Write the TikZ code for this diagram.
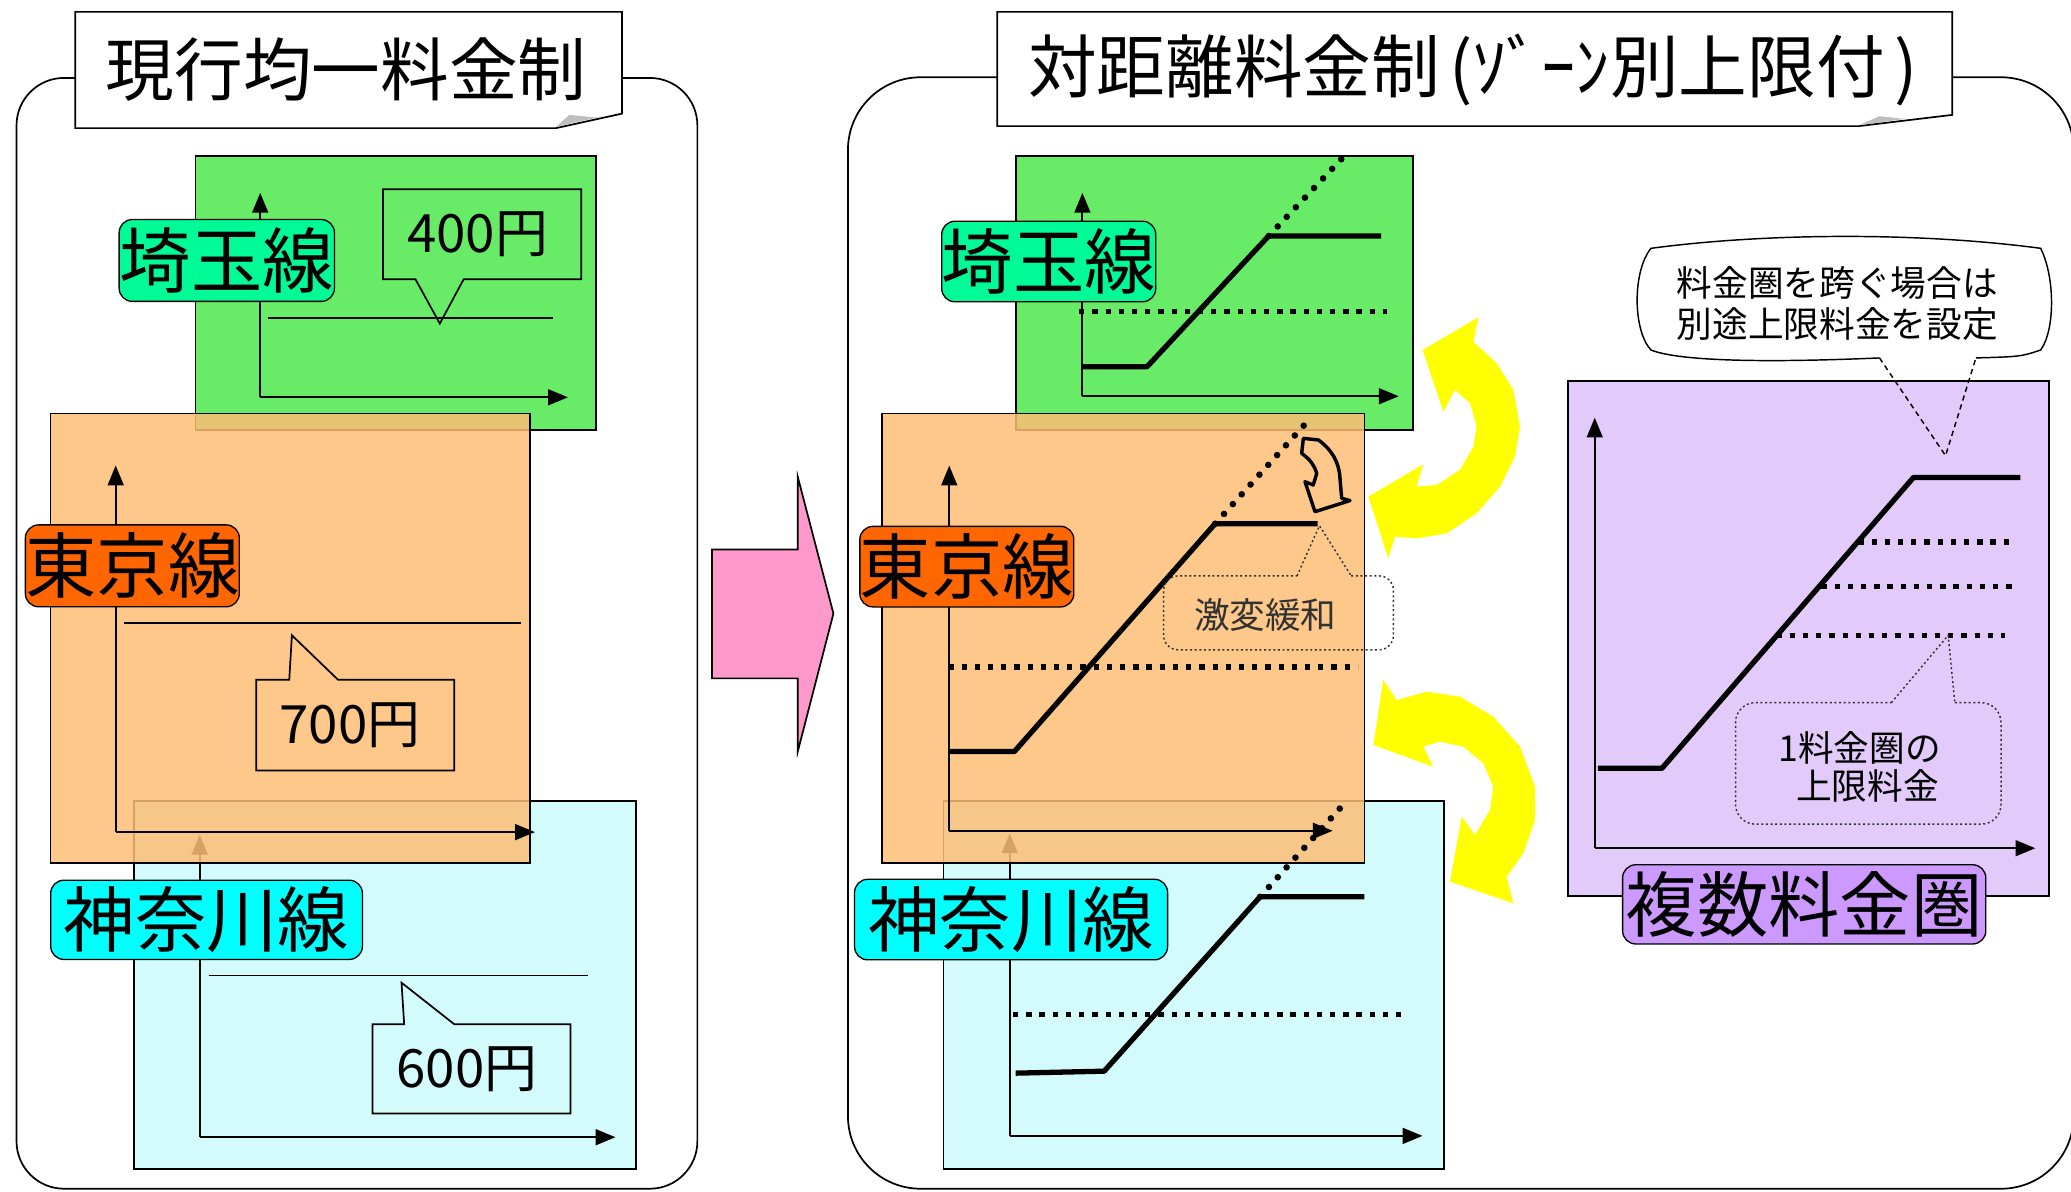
\documentclass[tikz,border=0pt]{standalone}
\usepackage{fontspec}
\setmainfont{Noto Sans CJK JP}
\usetikzlibrary{arrows.meta}
\definecolor{grnbox}{RGB}{104,236,104}
\definecolor{orgbox}{RGB}{253,190,118}
\definecolor{cynbox}{RGB}{212,251,252}
\definecolor{purbox}{RGB}{226,202,250}
\definecolor{grnlab}{RGB}{0,250,150}
\definecolor{orglab}{RGB}{255,102,0}
\definecolor{cynlab}{RGB}{0,255,255}
\definecolor{purlab}{RGB}{204,153,255}
\definecolor{pinkarr}{RGB}{255,153,204}
\definecolor{yelarr}{RGB}{255,255,0}
\definecolor{foldgray}{RGB}{190,190,190}
\definecolor{txtgray}{RGB}{50,50,50}
\newcommand{\myfs}[1]{\fontsize{#1}{#1}\selectfont}
\tikzset{
  frame/.style={draw=black, line width=1.3pt},
  boxline/.style={draw=black, line width=1.3pt},
  axis/.style={line width=1.5pt, -{Triangle[length=15pt,width=12pt]}},
  price/.style={line width=4pt, line join=round},
  thinline/.style={line width=1.3pt},
  dotflat/.style={line width=4pt, dash pattern=on 4pt off 6pt},
  dotdiag/.style={line width=5pt, line cap=round, dash pattern=on 0pt off 10pt},
  labelbox/.style={draw=black, line width=1pt, rounded corners=10pt, inner sep=0pt, font=\myfs{54}},
  titletext/.style={inner sep=0pt, font=\myfs{52}},
  amount/.style={inner sep=0pt, font=\myfs{40}},
  smalltext/.style={inner sep=0pt, font=\myfs{27}, align=center},
  callout/.style={draw=txtgray, line width=1.1pt, dash pattern=on 1.5pt off 2pt},
}
\begin{document}
\begin{tikzpicture}[x=1pt,y=-1pt]
\useasboundingbox (0,0) rectangle (1568,902);
\clip (0,0) rectangle (1568,902);

% ---------- outer frames ----------
\draw[frame, rounded corners=36pt] (12.5,59) rectangle (528,900);
\draw[frame, rounded corners=55pt] (642,58.5) rectangle (1570,900);

% ---------- titles ----------
\draw[boxline, fill=white] (57,9) -- (471,9) -- (471,86) -- (421,97) -- (57,97) -- cycle;
\fill[foldgray] (421,96) -- (431,87) -- (452,89) -- cycle;
\node[titletext] (t1) at (262,53) {現行均一料金制};

\draw[boxline, fill=white] (755,9) -- (1478,9) -- (1478,87) -- (1407,95.5) -- (755,95.5) -- cycle;
\fill[foldgray] (1407,95) -- (1423,88) -- (1442,90) -- cycle;
\node[titletext] (t2) at (1115,53) {対距離料金制\hspace{7pt}(ｿﾞｰﾝ別上限付\hspace{7pt})};

% ---------- pink arrow ----------
\draw[line width=1.3pt, fill=pinkarr] (539,416) -- (604,416) -- (604,361) -- (631,464.5) -- (604,569) -- (604,513.6) -- (539,513.6) -- cycle;

% =========== LEFT PANEL ===========
% green (Saitama)
\draw[boxline, fill=grnbox] (148,118) rectangle (451,325.6);
\draw[axis] (197,300.8) -- (197,146);
\draw[axis] (197,300.8) -- (430,300.8);
\draw[thinline] (203,240.5) -- (419,240.5);
\draw[thinline] (290,143.3) -- (440,143.3) -- (440,211.5) -- (351,211.5) -- (333,245) -- (314.6,211.5) -- (290,211.5) -- cycle;
\node[amount] (a400) at (361.5,177) {400円};

% cyan (Kanagawa)
\draw[boxline, fill=cynbox] (101.5,606.3) rectangle (481.4,885);
\draw[axis] (151.2,861) -- (151.2,632);
\draw[axis] (151.2,861) -- (466,861);
\draw[thinline] (158,738.5) -- (445,738.5);
\draw[thinline] (282,775.5) -- (306,775.5) -- (304,744) -- (344,775.5) -- (432,775.5) -- (432,843) -- (282,843) -- cycle;
\node[amount] (a600) at (353.5,809.5) {600円};

% orange (Tokyo)
\draw[boxline, fill=orgbox, fill opacity=0.85] (38.2,313) rectangle (401.5,653.3);
\draw[axis] (87.6,630) -- (87.6,352.4);
\draw[axis] (87.6,630) -- (405,630);
\draw[thinline] (93.8,471.6) -- (394.5,471.6);
\draw[thinline] (194,514.7) -- (219,514.7) -- (221,481) -- (256,514.7) -- (344,514.7) -- (344,583.4) -- (194,583.4) -- cycle;
\node[amount] (a700) at (265,549) {700円};

% labels
\node[labelbox, fill=grnlab, minimum width=163pt, minimum height=62pt] (sL) at (171.7,197.2) {埼玉線};
\node[labelbox, fill=orglab, minimum width=161pt, minimum height=62pt] (tL) at (100.2,428.4) {東京線};
\node[labelbox, fill=cynlab, minimum width=236pt, minimum height=60pt] (kL) at (156.4,696.4) {神奈川線};

% =========== RIGHT PANEL ===========
% green (Saitama)
\draw[boxline, fill=grnbox] (769,118) rectangle (1070,325.6);
\draw[axis] (819.5,300) -- (819.5,146);
\draw[axis] (819.5,300) -- (1059,300);
\draw[dotflat] (817,236) -- (1050,236);
\draw[price] (819.5,277.6) -- (868.5,277.6) -- (960.5,178.7) -- (1045.6,178.7);
\draw[dotdiag] (960.5,178.7) -- (1016,120);

% cyan (Kanagawa)
\draw[boxline, fill=cynbox] (714.4,606.4) rectangle (1093,885);
\draw[axis] (764.5,860) -- (764.5,631);
\draw[axis] (764.5,860) -- (1077,860);
\draw[dotflat] (767,768) -- (1063,768);
\draw[price] (769,812.5) -- (836,811) -- (954,679) -- (1033,679);

% orange (Tokyo)
\draw[boxline, fill=orgbox, fill opacity=0.85] (668,313) rectangle (1033,653.4);
\draw[axis] (718.7,629) -- (718.7,352.5);
\draw[axis] (718.7,629) -- (1009,629);
\draw[dotflat] (718,505) -- (1028,505);
\draw[price] (719,569) -- (768,569) -- (920,396.5) -- (997.6,396.5);
\draw[dotdiag] (920,396.5) -- (990,319);
\draw[dotdiag] (954,679) -- (1019,607);
% small curved arrow
\draw[line width=2.6pt, line join=round] (986.8,331.9) -- (998.1,333.1) .. controls (1008,340) and (1014,350) .. (1014.5,362) -- (1015.8,377.3) -- (1022.1,379) -- (995.6,387.4) -- (988,364.7) -- (994.3,367.2) -- (996.9,358.4) .. controls (995,352) and (992,348) .. (985.5,343.2) -- cycle;
% callout 激変緩和
\draw[callout] (982,436) -- (999,398) -- (1023,436);
\draw[callout, rounded corners=11pt] (1023,436) -- (1055,436) -- (1055,492) -- (881,492) -- (881,436) -- (982,436);
\node[smalltext, text=txtgray] (gk) at (958,466) {激変緩和};

% labels
\node[labelbox, fill=grnlab, minimum width=162pt, minimum height=61pt] (sR) at (794,198) {埼玉線};
\node[labelbox, fill=orglab, minimum width=162pt, minimum height=61pt] (tR) at (732,429) {東京線};
\node[labelbox, fill=cynlab, minimum width=237pt, minimum height=61pt] (kR) at (765.5,696.2) {神奈川線};

% purple (multiple zones)
\draw[boxline, fill=purbox] (1187,288.3) rectangle (1551.4,678.4);
\draw[axis] (1207.4,642.2) -- (1207.4,316.2);
\draw[axis] (1207.4,642.2) -- (1541,642.2);
\draw[dotflat] (1407,410.4) -- (1525,410.4);
\draw[dotflat] (1379,444) -- (1525,444);
\draw[dotflat] (1345,481) -- (1518,481);
\draw[price] (1209.7,581.7) -- (1258.3,581.7) -- (1448.7,361.5) -- (1529.7,361.5);
% callout 1料金圏の上限料金
\draw[callout] (1432,532) -- (1475,481) -- (1480,532);
\draw[callout, rounded corners=15pt] (1480,532) -- (1515,532) -- (1515,624) -- (1314,624) -- (1314,532) -- (1432,532);
\node[smalltext] (jg) at (1408,580.5) {1料金圏の\\[2pt]\hspace*{12pt}上限料金};
\node[labelbox, fill=purlab, minimum width=275pt, minimum height=60pt] (mz) at (1366,684.7) {複数料金圏};

% balloon
\draw[line width=1.1pt, fill=white] (1423,271) .. controls (1330,275) and (1270,273) .. (1250,265)
  .. controls (1236,250) and (1236,205) .. (1250,188)
  .. controls (1340,176) and (1455,176) .. (1545,188)
  .. controls (1556,210) and (1556,250) .. (1545,265)
  .. controls (1530,270) .. (1496,271);
\draw[line width=1.1pt, dash pattern=on 4pt off 3pt] (1423,271) -- (1473,345) -- (1496,271);
\node[smalltext] (bal) at (1391,229.5) {料金圏を跨ぐ場合は\\[4pt]別途上限料金を設定};

% yellow arrows
\fill[yelarr] (1119.3,240.2) -- (1115.5,258.7) -- (1133.2,275.1) -- (1145.8,295.2) -- (1150.8,323.0) -- (1147.0,345.7) -- (1135.7,368.4) -- (1118.0,388.6) -- (1095.3,403.8) -- (1072.6,407.6) -- (1056.2,406.3) -- (1051.1,422.7) -- (1036.0,376.0) -- (1077.6,351.5) -- (1072.6,368.4) -- (1087.7,367.2) -- (1105.4,355.8) -- (1115.5,338.2) -- (1118.0,323.0) -- (1113.0,305.3) -- (1101.6,295.2) -- (1092.8,311.7) -- (1077.1,265.0) -- cycle;
\fill[yelarr] (1047.3,514.8) -- (1057.4,530.0) -- (1080.2,523.7) -- (1105.4,527.5) -- (1130.6,542.6) -- (1150.8,565.3) -- (1162.2,595.6) -- (1162.2,620.9) -- (1153.3,646.1) -- (1140.7,663.8) -- (1145.8,683.9) -- (1097.8,667.5) -- (1106.7,618.3) -- (1116.7,632.2) -- (1128.1,613.3) -- (1130.6,595.6) -- (1123.1,577.9) -- (1107.9,565.3) -- (1090.2,561.5) -- (1077.6,565.3) -- (1085.2,580.5) -- (1039.8,564.1) -- cycle;
\end{tikzpicture}
\end{document}
